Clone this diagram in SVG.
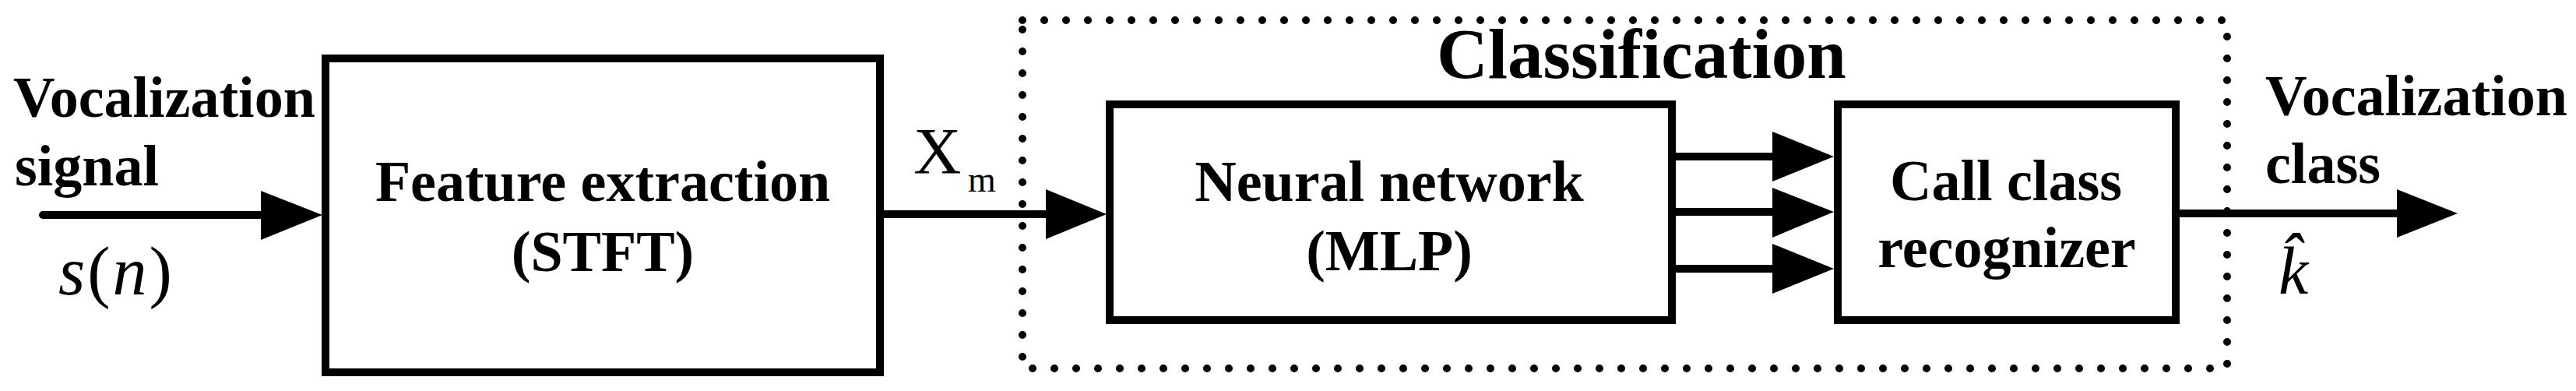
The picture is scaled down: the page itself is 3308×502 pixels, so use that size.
<svg xmlns="http://www.w3.org/2000/svg" width="3308" height="502" viewBox="0 0 3308 502">
<style>
.box{fill:none;stroke:#000;stroke-width:10}
.dot{fill:none;stroke:#000;stroke-width:10;stroke-linecap:round;stroke-dasharray:0 28}
.ln{stroke:#000;stroke-width:10;fill:none}
.head{fill:#000}
text{font-family:'Liberation Serif','Times New Roman','DejaVu Serif',serif;fill:#000}
.lbl{font-weight:bold;font-size:74px}
.ttl{font-weight:bold;font-size:91px}
</style>
<rect width="3308" height="502" fill="#fff"/>
<g id="classification-group">
<rect class="dot" x="1313" y="26" width="1547" height="447"/>
<text class="ttl" x="2108" y="100" text-anchor="middle" font-family="Liberation Serif, serif">Classification</text>
</g>
<g id="input-label">
<text class="lbl" x="17" y="150" font-size="73" font-family="Liberation Serif, serif">Vocalization</text>
<text class="lbl" x="19" y="238" font-size="73" font-family="Liberation Serif, serif">signal</text>
<text x="75" y="378" font-size="88" font-family="Liberation Serif, serif"><tspan font-style="italic">s</tspan><tspan dx="3">(</tspan><tspan font-style="italic" dx="3">n</tspan><tspan dx="3">)</tspan></text>
</g>
<g id="feature-extraction">
<rect class="box" x="418" y="75" width="712" height="403"/>
<text class="lbl" x="774" y="258" text-anchor="middle" font-family="Liberation Serif, serif">Feature extraction</text>
<text class="lbl" x="774" y="348" text-anchor="middle" font-family="Liberation Serif, serif">(STFT)</text>
</g>
<g id="neural-network">
<rect class="box" x="1425" y="134" width="722" height="277"/>
<text class="lbl" x="1784" y="258" text-anchor="middle" font-family="Liberation Serif, serif">Neural network</text>
<text class="lbl" x="1784" y="347" text-anchor="middle" font-family="Liberation Serif, serif">(MLP)</text>
</g>
<g id="call-class-recognizer">
<rect class="box" x="2360" y="134" width="434" height="277"/>
<text class="lbl" x="2576" y="257" text-anchor="middle" font-family="Liberation Serif, serif">Call class</text>
<text class="lbl" x="2577" y="343" text-anchor="middle" font-family="Liberation Serif, serif">recognizer</text>
</g>
<g id="output-label">
<text class="lbl" x="2909" y="148" font-size="73" font-family="Liberation Serif, serif">Vocalization</text>
<text class="lbl" x="2909" y="235" font-size="73" font-family="Liberation Serif, serif">class</text>
<text x="2926" y="377" font-size="86" font-style="italic" font-family="Liberation Serif, serif">k̂</text>
</g>
<g id="xm-label">
<text x="1173" y="223" font-size="85" font-family="Liberation Serif, serif">X<tspan x="1243" y="246" font-size="46">m</tspan></text>
</g>
<g id="connectors">
<line class="ln" x1="55" y1="276" x2="340" y2="276" stroke-linecap="round"/>
<polygon class="head" points="335,245 414,276 335,308"/>
<line class="ln" x1="1130" y1="275" x2="1348" y2="275"/>
<polygon class="head" points="1343,243 1421,275 1343,307"/>
<line class="ln" x1="2147" y1="201" x2="2280" y2="201"/>
<polygon class="head" points="2276,169 2355,201 2276,233"/>
<line class="ln" x1="2147" y1="272" x2="2280" y2="272"/>
<polygon class="head" points="2276,241 2355,272 2276,305"/>
<line class="ln" x1="2147" y1="345" x2="2280" y2="345"/>
<polygon class="head" points="2276,313 2355,345 2276,377"/>
<line class="ln" x1="2794" y1="274" x2="3082" y2="274"/>
<polygon class="head" points="3078,243 3156,274 3078,305"/>
</g>
</svg>
